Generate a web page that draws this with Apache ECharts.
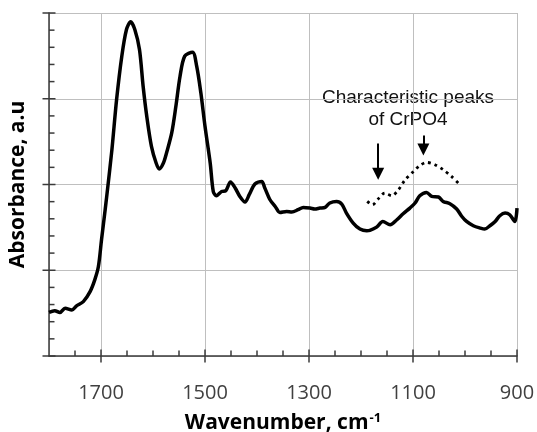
<!DOCTYPE html>
<html>
<head>
<meta charset="utf-8">
<script src="https://cdn.jsdelivr.net/npm/echarts@6/dist/echarts.min.js"></script>
<style>html,body{margin:0;padding:0;background:#fff;}#chart{width:537px;height:432px;}</style>
</head>
<body>
<div id="chart"></div>
<script>
// Main spectrum (solid line)
const mainWavenumber = [1800,1789,1779,1769,1756,1747,1734,1721,1712,1705,1699,1692,1689,1679,1670,1660,1651,1643,1635,1626,1619,1612,1603,1594,1588,1580,1574,1564,1556,1548,1539,1524,1516,1508,1500,1490,1484,1478,1468,1460,1451,1442,1433,1423,1415,1404,1391,1385,1375,1365,1356,1343,1333,1321,1311,1298,1289,1279,1269,1260,1247,1237,1228,1215,1202,1189,1183,1170,1158,1144,1131,1119,1106,1096,1087,1074,1064,1051,1042,1029,1016,1006,997,984,971,962,952,942,933,923,914,904,900];
const mainAbsorbance = [0.51,0.529,0.506,0.557,0.537,0.584,0.634,0.751,0.888,1.043,1.355,1.706,1.861,2.407,2.991,3.497,3.808,3.898,3.808,3.575,3.146,2.796,2.445,2.251,2.181,2.251,2.368,2.602,2.912,3.263,3.497,3.543,3.38,3.069,2.679,2.251,1.916,1.869,1.919,1.928,2.029,1.959,1.861,1.796,1.881,2.006,2.036,1.959,1.822,1.744,1.674,1.686,1.679,1.706,1.733,1.725,1.714,1.725,1.733,1.784,1.803,1.772,1.667,1.55,1.48,1.46,1.464,1.503,1.569,1.53,1.589,1.659,1.725,1.784,1.869,1.908,1.861,1.854,1.803,1.776,1.714,1.627,1.569,1.519,1.492,1.48,1.519,1.569,1.636,1.667,1.647,1.569,1.725];
// CrPO4 reference (dotted line)
const crpo4Wavenumber = [1188,1178,1167,1154,1141,1128,1115,1099,1087,1074,1058,1042,1026,1013];
const crpo4Absorbance = [1.803,1.764,1.831,1.901,1.869,1.939,2.056,2.153,2.22,2.258,2.231,2.173,2.095,2.018];
// Arrow annotations: wavenumber, start absorbance, end absorbance
const arrowWavenumber = [1167, 1080];
const arrowStart = [2.477, 2.57];
const arrowEnd = [2.126, 2.407];
const annotationText = 'Characteristic peaks\nof CrPO4';
// Axis ranges and ticks
const xRange = [900, 1800];
const yRange = [0, 4];
const xMajorTicks = [900, 1100, 1300, 1500, 1700];
const xMinorTicks = [950, 1000, 1050, 1150, 1200, 1250, 1350, 1400, 1450, 1550, 1600, 1650, 1750];
const yMajorTicks = [0, 1, 2, 3, 4];
const yMinorTicks = [0.2, 0.4, 0.6, 0.8, 1.2, 1.4, 1.6, 1.8, 2.2, 2.4, 2.6, 2.8, 3.2, 3.4, 3.6, 3.8];

const axisColor = '#3a3a3a';
const chart = echarts.init(document.getElementById('chart'), null, {renderer: 'canvas'});

function tickRenderer(isX) {
  return function (params, api) {
    const p = api.coord([api.value(0), api.value(1)]);
    const major = api.value(2) === 1;
    const inner = major ? 6.5 : 5.5;
    const outer = major ? 6.5 : 0;
    const shape = isX
      ? {x1: p[0], y1: p[1] - inner, x2: p[0], y2: p[1] + outer}
      : {x1: p[0] - outer, y1: p[1], x2: p[0] + inner, y2: p[1]};
    return {type: 'line', shape: shape, style: {stroke: axisColor, lineWidth: 1.5}};
  };
}

const option = {
  animation: false,
  grid: {left: 49, right: 20, top: 13, bottom: 76, containLabel: false, outerBoundsMode: 'none'},
  xAxis: {
    type: 'value', min: xRange[0], max: xRange[1], interval: 200, inverse: true,
    axisLine: {show: true, lineStyle: {color: axisColor, width: 1.5}},
    axisTick: {show: false},
    axisLabel: {showMaxLabel: false, margin: 27, fontFamily: 'Open Sans', fontSize: 20, color: '#404040',
      formatter: v => (xMajorTicks.indexOf(v) >= 0 ? String(v) : '')},
    splitLine: {show: true, lineStyle: {color: '#bfbfbf', width: 1}},
    name: 'Wavenumber, cm{sup|-1}', nameLocation: 'middle', nameGap: 56,
    nameTextStyle: {fontFamily: 'Open Sans', fontWeight: 'bold', fontSize: 21, color: '#000',
      rich: {sup: {fontFamily: 'Open Sans', fontWeight: 'bold', fontSize: 13, color: '#000', padding: [0, 0, 9, 1]}}}
  },
  yAxis: {
    type: 'value', min: yRange[0], max: yRange[1], interval: 1,
    axisLine: {show: true, lineStyle: {color: axisColor, width: 1.5}},
    axisTick: {show: false},
    axisLabel: {show: false},
    splitLine: {show: true, lineStyle: {color: '#bfbfbf', width: 1}},
    name: 'Absorbance, a.u', nameLocation: 'middle', nameGap: 20,
    nameTextStyle: {fontFamily: 'Open Sans', fontWeight: 'bold', fontSize: 21, color: '#000'}
  },
  series: [{
    type: 'line',
    data: mainWavenumber.map((w, i) => [w, mainAbsorbance[i]]),
    showSymbol: false, smooth: 0.3, silent: true, z: 3,
    lineStyle: {color: '#000', width: 3.5},
    markLine: {
      silent: true, symbol: ['none', 'triangle'], symbolSize: [12, 12],
      lineStyle: {color: '#000', width: 2, type: 'solid'},
      label: {show: false},
      data: arrowWavenumber.map((w, i) => [{coord: [w, arrowStart[i]]}, {coord: [w, arrowEnd[i]]}])
    }
  }, {
    type: 'line',
    data: crpo4Wavenumber.map((w, i) => [w, crpo4Absorbance[i]]),
    showSymbol: false, smooth: 0.3, silent: true, z: 3,
    lineStyle: {color: '#000', width: 2.8, type: [2.8, 4]}
  }, {
    type: 'custom', silent: true, clip: false, z: 4,
    renderItem: tickRenderer(true),
    data: xMajorTicks.map(v => [v, yRange[0], 1]).concat(xMinorTicks.map(v => [v, yRange[0], 0]))
  }, {
    type: 'custom', silent: true, clip: false, z: 4,
    renderItem: tickRenderer(false),
    data: yMajorTicks.map(v => [xRange[1], v, 1]).concat(yMinorTicks.map(v => [xRange[1], v, 0]))
  }],
  graphic: [{
    type: 'text', x: 408, y: 108.5, silent: true,
    style: {text: annotationText, fontFamily: 'Liberation Sans', fontSize: 19, lineHeight: 22,
      fill: '#111', align: 'center', verticalAlign: 'middle'}
  }]
};
chart.setOption(option);
</script>
</body>
</html>
